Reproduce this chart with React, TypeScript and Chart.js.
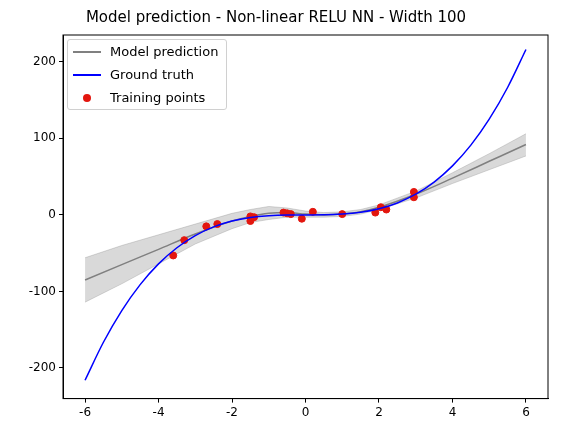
import { useEffect, useRef } from "react";
import { Chart, registerables } from "chart.js";

Chart.register(...registerables);

const truthX = [-6, -5.5, -5, -4.5, -4, -3.5, -3, -2.5, -2, -1.5, -1, -0.5, 0, 0.5, 1, 1.5, 2, 2.5, 3, 3.5, 4, 4.5, 5, 5.5, 6];
const truthY = [-216, -166.4, -125, -91.1, -64, -42.9, -27, -15.6, -8, -3.4, -1, -0.1, 0, 0.1, 1, 3.4, 8, 15.6, 27, 42.9, 64, 91.1, 125, 166.4, 216];

const predX = [-6, -5, -4, -3, -2, -1.5, -1, -0.5, 0, 0.5, 1, 1.5, 2, 3, 4, 5, 6];
const predY = [-85, -65, -45, -25, -8, -2, 2, 3, 1, 0, 1, 4, 10, 27, 48, 70, 92];
const upperY = [-56, -40, -26, -12, 2, 7, 11, 9, 5, 3, 4, 7, 13, 31, 55, 80, 106];
const lowerY = [-114, -90, -64, -38, -18, -10, -6, -3, -3, -3, -2, 1, 7, 22, 41, 59, 77];

const trainX = [-3.6, -3.3, -2.7, -2.4, -1.5, -1.5, -1.4, -0.6, -0.5, -0.4, -0.1, 0.2, 1, 1.9, 2.05, 2.2, 2.95, 2.95];
const trainY = [-53, -33, -15, -12, -2, -8, -3, 3, 2, 1, -5, 4, 1, 3, 10, 7, 30, 23];

const xTicks = [-6, -4, -2, 0, 2, 4, 6];
const yTicks = [-200, -100, 0, 100, 200];

const pts = (xs: number[], ys: number[]) => xs.map((x, i) => ({ x, y: ys[i] }));

const boxPlugin = {
  id: "box",
  afterDraw(chart: Chart) {
    const { ctx, chartArea: a } = chart;
    ctx.save();
    ctx.strokeStyle = "#000";
    ctx.lineWidth = 1;
    ctx.strokeRect(a.left, a.top, a.right - a.left, a.bottom - a.top);
    ctx.restore();
  },
};

export default function App() {
  const canvasRef = useRef<HTMLCanvasElement | null>(null);

  useEffect(() => {
    if (!canvasRef.current) return;
    const font = { family: "DejaVu Sans", size: 12 };
    const axisCommon = {
      type: "linear" as const,
      grid: { drawOnChartArea: false, drawTicks: true, tickLength: 4, color: "#000" },
      border: { color: "#000" },
      ticks: { color: "#000", font, padding: 3 },
    };
    const chart = new Chart(canvasRef.current, {
      type: "scatter",
      data: {
        datasets: [
          {
            label: "upper",
            data: pts(predX, upperY),
            showLine: true,
            borderColor: "rgba(160,160,160,0.4)",
            borderWidth: 1,
            pointRadius: 0,
            fill: false,
            order: 5,
          },
          {
            label: "lower",
            data: pts(predX, lowerY),
            showLine: true,
            borderColor: "rgba(160,160,160,0.4)",
            borderWidth: 1,
            pointRadius: 0,
            fill: "-1",
            backgroundColor: "rgba(128,128,128,0.3)",
            order: 4,
          },
          {
            label: "Model prediction",
            data: pts(predX, predY),
            showLine: true,
            borderColor: "#808080",
            borderWidth: 1.5,
            pointRadius: 0,
            cubicInterpolationMode: "monotone",
            order: 3,
          },
          {
            label: "Ground truth",
            data: pts(truthX, truthY),
            showLine: true,
            borderColor: "#0000ff",
            borderWidth: 1.5,
            pointRadius: 0,
            cubicInterpolationMode: "monotone",
            order: 1,
          },
          {
            label: "Training points",
            data: pts(trainX, trainY),
            backgroundColor: "#e3160e",
            borderColor: "#e3160e",
            pointRadius: 3.5,
            order: 2,
          },
        ],
      },
      options: {
        animation: false,
        responsive: false,
        layout: { padding: { left: 4, right: 15, top: 0, bottom: 12 } },
        plugins: {
          legend: { display: false },
          tooltip: { enabled: false },
          title: {
            display: true,
            text: "Model prediction - Non-linear RELU NN - Width 100",
            color: "#000",
            font: { family: "DejaVu Sans", size: 15, weight: "normal" },
            padding: { top: 9, bottom: 8 },
          },
        },
        scales: {
          x: {
            ...axisCommon,
            min: -6.6,
            max: 6.6,
            afterBuildTicks: (s: any) => { s.ticks = xTicks.map((v) => ({ value: v })); },
          },
          y: {
            ...axisCommon,
            min: -240,
            max: 235,
            afterBuildTicks: (s: any) => { s.ticks = yTicks.map((v) => ({ value: v })); },
            afterFit: (s: any) => { s.width = 59; },
          },
        },
      },
      plugins: [boxPlugin],
    });
    return () => chart.destroy();
  }, []);

  const item = (sym: JSX.Element, text: string) => (
    <div style={{ display: "flex", alignItems: "center", height: 23 }}>
      <div style={{ width: 30, display: "flex", justifyContent: "center" }}>{sym}</div>
      <span style={{ marginLeft: 8 }}>{text}</span>
    </div>
  );

  return (
    <div style={{ position: "fixed", left: 0, top: 0, width: 563, height: 435, background: "#fff" }}>
      <canvas ref={canvasRef} width={563} height={435} />
      <div
        style={{
          position: "absolute",
          left: 67,
          top: 39,
          padding: "0 8px 0 4px",
          border: "1px solid #d0d0d0",
          borderRadius: 3,
          background: "rgba(255,255,255,0.8)",
          fontFamily: "DejaVu Sans",
          fontSize: 13,
        }}
      >
        {item(<div style={{ width: 28, height: 2, background: "#808080" }} />, "Model prediction")}
        {item(<div style={{ width: 28, height: 2, background: "#0000ff" }} />, "Ground truth")}
        {item(<div style={{ width: 8, height: 8, borderRadius: 4, background: "#e3160e" }} />, "Training points")}
      </div>
    </div>
  );
}
